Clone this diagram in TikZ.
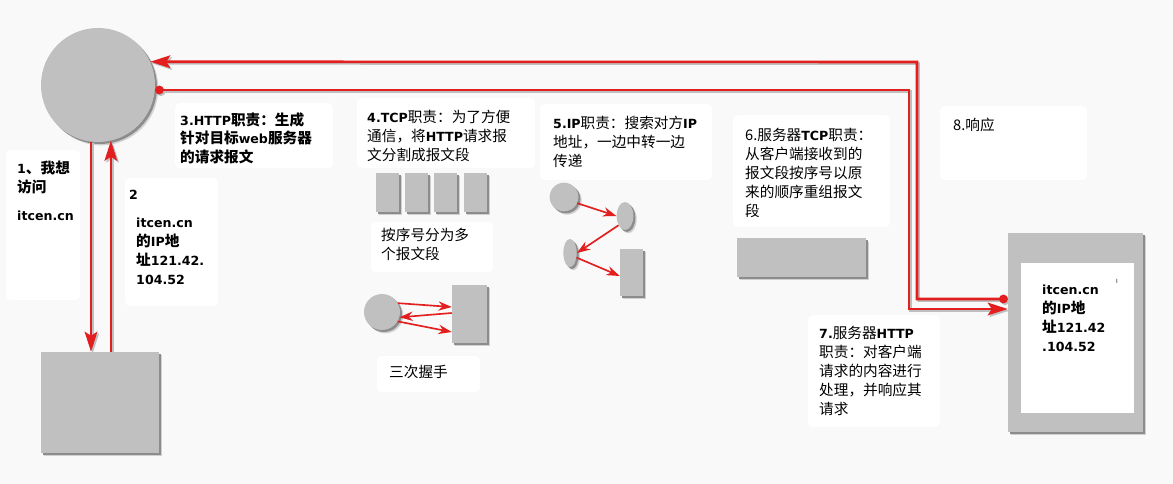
\documentclass[tikz,border=0pt]{standalone}
\usepackage{fontspec}
\setmainfont{Noto Sans CJK SC}
\newfontfamily\enfont{DejaVu Sans}[Scale=0.86]
\newcommand{\en}[1]{{\enfont\bfseries #1}}
\usetikzlibrary{arrows.meta,shapes.geometric}
\definecolor{boxGray}{RGB}{192,192,192}
\definecolor{lineRed}{RGB}{226,30,30}
\definecolor{paper}{RGB}{249,249,249}

\begin{document}
\begin{tikzpicture}[x=0.03cm,y=-0.03cm,
    gray box/.style={fill=boxGray, draw=none, inner sep=0pt,
      preaction={fill=black!18, transform canvas={xshift=0.1cm, yshift=-0.1cm}},
      preaction={fill=black!45, transform canvas={xshift=0.06cm, yshift=-0.06cm}}},
    panel/.style={fill=white, rounded corners=0.15cm},
    txt/.style={anchor=north west, inner sep=0pt, align=left,
      font=\fontsize{12.5}{16.2}\selectfont},
    bold txt/.style={txt, font=\fontsize{12.5}{16.2}\selectfont\bfseries},
    big link/.style={draw=lineRed, line width=2.2pt,
      preaction={draw=black!25, line width=2.2pt, transform canvas={xshift=0.05cm, yshift=-0.05cm}}},
    big tip/.style={-{Stealth[length=0.6cm, width=0.38cm, inset=0.12cm]}},
    dot tip/.style={{Circle[length=0.26cm]}-{Stealth[length=0.6cm, width=0.38cm, inset=0.12cm]}},
    small link/.style={draw=lineRed, line width=1.4pt, -{Stealth[length=0.4cm, width=0.28cm]}}
  ]
  \fill[paper] (0,0) rectangle (1173,484);
  \useasboundingbox (0,0) rectangle (1173,484);

  % white text panels
  \fill[panel] (6,150) rectangle (80,300);
  \fill[panel] (125,178) rectangle (218,306);
  \fill[panel] (175,103) rectangle (333,168);
  \fill[panel] (357,98) rectangle (535,168);
  \fill[panel] (371,222) rectangle (493,272);
  \fill[panel] (377,356) rectangle (480,392);
  \fill[panel] (540,104) rectangle (712,180);
  \fill[panel] (733,115) rectangle (890,227);
  \fill[panel] (940,106) rectangle (1087,180);
  \fill[panel] (808,315) rectangle (940,427);

  % client and dns
  \node[gray box, circle, minimum size=3.42cm] (client) at (98,85) {};
  \node[gray box, minimum width=3.54cm, minimum height=3.03cm] (dns) at (100,402.5) {};

  % segments
  \foreach \x [count=\i] in {387,416.5,445,475.5}
    \node[gray box, minimum width=0.69cm, minimum height=1.17cm] (seg\i) at (\x,192.5) {};

  % handshake
  \node[gray box, circle, minimum size=1.08cm] (hsc) at (382,312) {};
  \node[gray box, minimum width=1.05cm, minimum height=1.74cm] (hsr) at (469.5,314) {};

  % ip relay
  \node[gray box, circle, minimum size=0.86cm] (ipc) at (564,197) {};
  \node[gray box, ellipse, minimum width=0.5cm, minimum height=0.84cm] (ipa) at (625,216) {};
  \node[gray box, ellipse, minimum width=0.4cm, minimum height=0.84cm] (ipb) at (570,253) {};
  \node[gray box, minimum width=0.69cm, minimum height=1.41cm] (ipr) at (631.5,272.5) {};

  % server
  \node[gray box, minimum width=3.87cm, minimum height=1.14cm] (buf) at (801.5,257.5) {};
  \node[gray box, minimum width=4.05cm, minimum height=5.97cm] (server) at (1075.5,332.5) {};
  \node[fill=white, minimum width=3.39cm, minimum height=4.5cm] (page) at (1077.5,338) {};

  % texts
  \node[bold txt] (t1) at (17,161) {\en{1}、我想\\访问\\[0.27cm]\en{itcen.cn}};
  \node[bold txt] (t2) at (129,190) {\en{2}};
  \node[bold txt] (t2b) at (136,218) {\en{itcen.cn}\\的\en{IP}地\\址\en{121.42.}\\\en{104.52}};
  \node[bold txt] (t3) at (180,112) {\en{3.HTTP}职责：生成\\针对目标\en{web}服务器\\的请求报文};
  \node[txt] (t4) at (367,110) {\en{4.TCP}职责：为了方便\\通信，将\en{HTTP}请求报\\文分割成报文段};
  \node[txt] (t4b) at (381,228) {按序号分为多\\个报文段};
  \node[txt] (t4c) at (389,365) {三次握手};
  \node[txt] (t5) at (553,116) {\en{5.IP}职责：搜索对方\en{IP}\\地址，一边中转一边\\传递};
  \node[txt] (t6) at (745,128) {6.服务器\en{TCP}职责：\\从客户端接收到的\\报文段按序号以原\\来的顺序重组报文\\段};
  \node[txt] (t8) at (953,118) {8.响应};
  \node[txt] (t7) at (819,326) {\en{7.}服务器\en{HTTP}\\职责：对客户端\\请求的内容进行\\处理，并响应其\\请求};
  \node[bold txt] (t9) at (1042,285) {\en{itcen.cn}\\的\en{IP}地\\址\en{121.42}\\\en{.104.52}};
  \node[font=\tiny, inner sep=0pt] (cursor) at (1117,281) {I};

  % dns lookup
  \draw[big link, big tip] (client.263) -- (client.263 |- dns.north);
  \draw[big link, big tip] (client.283 |- dns.north) -- (client.283);

  % request and response
  \coordinate (reqbend) at (909,309);
  \coordinate (respbend) at (917,62);
  \draw[big link, dot tip] (client.-5) -| (reqbend) -- (server.west |- reqbend);
  \draw[big link, dot tip] (server.west |- 0,299) -| (respbend) -- (client.24);

  % small arrows
  \draw[small link] (hsc.29) -- (hsr.west |- 0,307);
  \draw[small link] (hsr.west |- 0,313) -- (hsc.-17);
  \draw[small link] (hsc.-31) -- (hsr.west |- 0,332);
  \draw[small link] (ipc.-25) -- (ipa.west);
  \draw[small link] (ipa.235) -- (ipb.east);
  \draw[small link] (ipb.-35) -- (ipr.west |- 0,276);
\end{tikzpicture}
\end{document}
